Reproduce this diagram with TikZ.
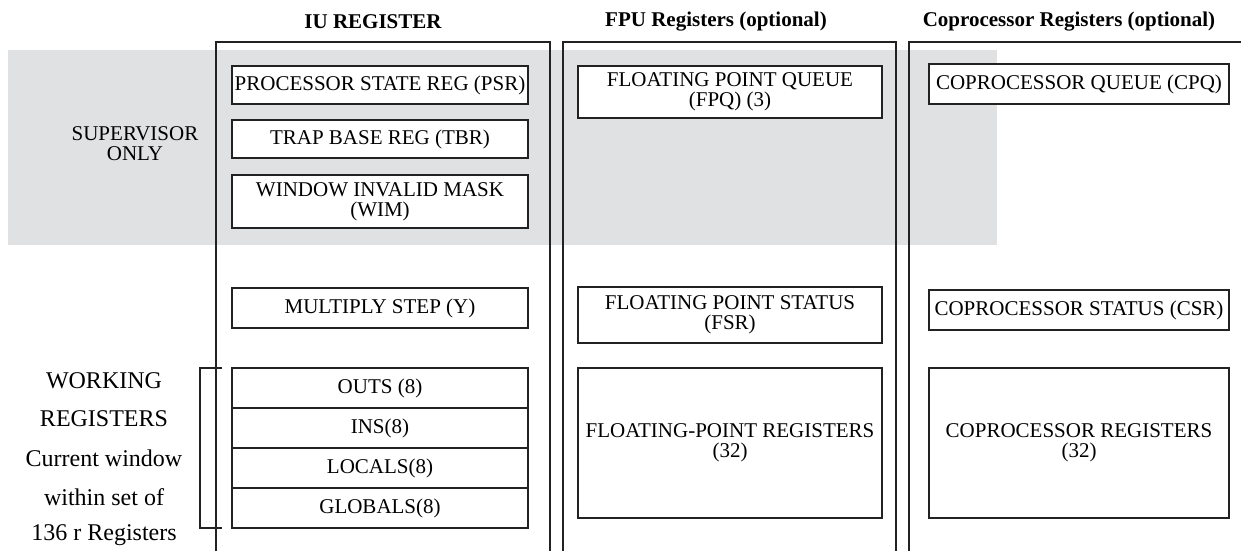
\documentclass[tikz,border=0pt]{standalone}
\usepackage{fontspec}
\setmainfont{Liberation Serif}
\definecolor{bandgray}{HTML}{E0E1E3}
\definecolor{ink}{HTML}{222222}
\newcommand{\regfont}{\fontsize{21}{20}\selectfont}
\newcommand{\bigsidefont}{\fontsize{24}{24}\selectfont}
\newcommand{\headfont}{\fontsize{21}{22}\selectfont\bfseries}
\tikzset{
  regbox/.style={draw=ink, line width=2pt, fill=white, inner sep=0pt, align=center, font=\regfont},
  colline/.style={draw=ink, line width=2pt},
  heading/.style={font=\headfont, inner sep=0pt},
  sidetext/.style={font=\regfont, inner sep=0pt, align=center},
  worktext/.style={font=\bigsidefont, inner sep=0pt, align=center},
}
\begin{document}
\begin{tikzpicture}[x=1pt,y=-1pt]
\useasboundingbox (0,0) rectangle (1241,551);
% supervisor band
\fill[bandgray] (8,50) rectangle (997,245);
% headings
\node[heading] (hiu) at (373,22) {IU REGISTER};
\node[heading] (hfpu) at (716,22) {FPU Registers (optional)};
\node[heading] (hcop) at (1069,22) {Coprocessor Registers (optional)};
% column outlines
\coordinate (iuA) at (216,551); \coordinate (iuB) at (216,42);
\coordinate (iuC) at (550,42);  \coordinate (iuD) at (550,551);
\coordinate (fpA) at (563,551); \coordinate (fpB) at (563,42);
\coordinate (fpC) at (896,42);  \coordinate (fpD) at (896,551);
\coordinate (cpA) at (909,551); \coordinate (cpB) at (909,42);
\coordinate (cpC) at (1241,42);
\draw[colline] (iuA) -- (iuB) -- (iuC) -- (iuD);
\draw[colline] (fpA) -- (fpB) -- (fpC) -- (fpD);
\draw[colline] (cpA) -- (cpB) -- (cpC);
% side texts
\node[sidetext] (sup) at (135,144) {SUPERVISOR\\ONLY};
\node[worktext] (w1) at (104,381) {WORKING};
\node[worktext] (w2) at (104,419) {REGISTERS};
\node[worktext] (w3) at (104,458) {Current window};
\node[worktext] (w4) at (104,497) {within set of};
\node[worktext] (w5) at (104,535) {136 r Registers};
% IU registers
\node[regbox, minimum width=296pt, minimum height=38pt] (psr) at (380,85) {PROCESSOR STATE REG (PSR)};
\node[regbox, minimum width=296pt, minimum height=38pt] (tbr) at (380,139) {TRAP BASE REG (TBR)};
\node[regbox, minimum width=296pt, minimum height=53pt] (wim) at (380,201.5) {WINDOW INVALID MASK\\(WIM)};
\node[regbox, minimum width=296pt, minimum height=40pt] (y) at (380,308) {MULTIPLY STEP (Y)};
\node[regbox, minimum width=296pt, minimum height=40pt] (outs) at (380,388) {OUTS (8)};
\node[regbox, minimum width=296pt, minimum height=40pt] (ins) at (380,428) {INS(8)};
\node[regbox, minimum width=296pt, minimum height=40pt] (locs) at (380,468) {LOCALS(8)};
\node[regbox, minimum width=296pt, minimum height=40pt] (globs) at (380,508) {GLOBALS(8)};
% bracket
\coordinate (brT) at (222,368); \coordinate (brB) at (222,528);
\draw[colline] (brT) -- (200,368) -- (200,528) -- (brB);
% FPU registers
\node[regbox, minimum width=304pt, minimum height=52pt] (fpq) at (730,92) {FLOATING POINT QUEUE\\(FPQ) (3)};
\node[regbox, minimum width=304pt, minimum height=56pt] (fsr) at (730,315) {FLOATING POINT STATUS\\(FSR)};
\node[regbox, minimum width=304pt, minimum height=150pt] (fpr) at (730,443) {FLOATING-POINT REGISTERS\\(32)};
% Coprocessor registers
\node[regbox, minimum width=300pt, minimum height=40pt] (cpq) at (1079,84) {COPROCESSOR QUEUE (CPQ)};
\node[regbox, minimum width=300pt, minimum height=40pt] (csr) at (1079,310) {COPROCESSOR STATUS (CSR)};
\node[regbox, minimum width=300pt, minimum height=150pt] (cpr) at (1079,443) {COPROCESSOR REGISTERS\\(32)};
\end{tikzpicture}
\end{document}
